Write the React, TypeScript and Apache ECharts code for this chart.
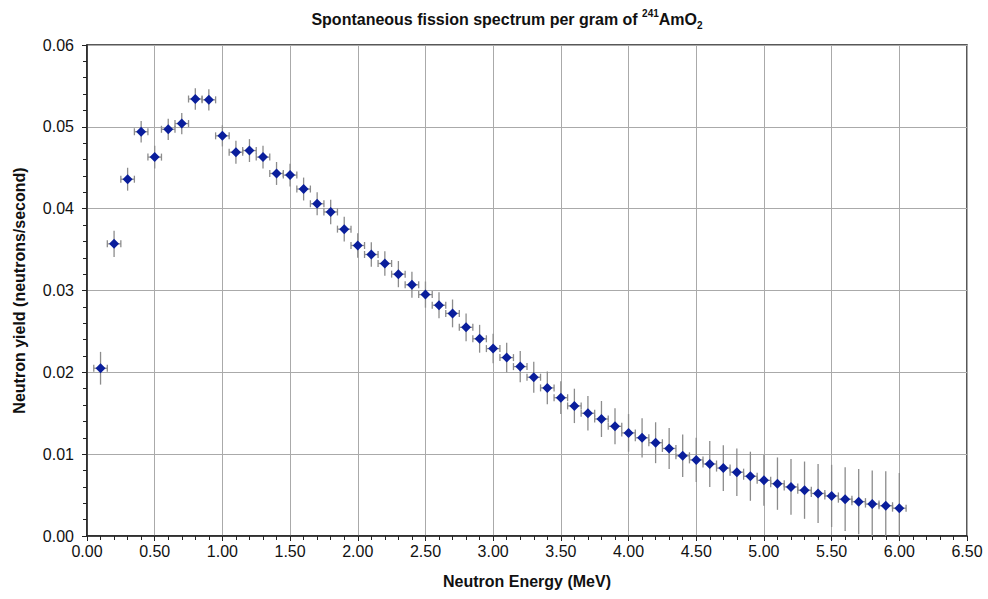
import React, { useEffect, useRef } from "react";
import * as echarts from "echarts";

const TITLE = "Spontaneous fission spectrum per gram of {sup|241}AmO{sub|2}";
const X_NAME = "Neutron Energy (MeV)";
const Y_NAME = "Neutron yield (neutrons/second)";

const energies = [
  0.1, 0.2, 0.3, 0.4, 0.5, 0.6, 0.7, 0.8, 0.9, 1.0,
  1.1, 1.2, 1.3, 1.4, 1.5, 1.6, 1.7, 1.8, 1.9, 2.0,
  2.1, 2.2, 2.3, 2.4, 2.5, 2.6, 2.7, 2.8, 2.9, 3.0,
  3.1, 3.2, 3.3, 3.4, 3.5, 3.6, 3.7, 3.8, 3.9, 4.0,
  4.1, 4.2, 4.3, 4.4, 4.5, 4.6, 4.7, 4.8, 4.9, 5.0,
  5.1, 5.2, 5.3, 5.4, 5.5, 5.6, 5.7, 5.8, 5.9, 6.0,
];

const yields = [
  0.0205, 0.0357, 0.0436, 0.0494, 0.0463, 0.0497, 0.0504, 0.0534, 0.0533, 0.0489,
  0.0469, 0.0471, 0.0463, 0.0443, 0.0441, 0.0424, 0.0406, 0.0396, 0.0375, 0.0355,
  0.0344, 0.0333, 0.0320, 0.0307, 0.0295, 0.0282, 0.0272, 0.0255, 0.0241, 0.0229,
  0.0218, 0.0207, 0.0194, 0.0181, 0.0169, 0.0159, 0.0150, 0.0143, 0.0134, 0.0126,
  0.0120, 0.0114, 0.0107, 0.0098, 0.0093, 0.0088, 0.0083, 0.0078, 0.0073, 0.0068,
  0.0064, 0.0060, 0.0056, 0.0052, 0.0049, 0.0045, 0.0042, 0.0039, 0.0037, 0.0034,
];

const yieldErrors = [
  0.0020, 0.0016, 0.0014, 0.0013, 0.0014, 0.0013, 0.0013, 0.0013, 0.0013, 0.0013,
  0.0014, 0.0014, 0.0014, 0.0014, 0.0014, 0.0014, 0.0014, 0.0015, 0.0015, 0.0015,
  0.0015, 0.0015, 0.0016, 0.0016, 0.0016, 0.0016, 0.0017, 0.0017, 0.0017, 0.0018,
  0.0018, 0.0019, 0.0019, 0.0020, 0.0020, 0.0021, 0.0021, 0.0022, 0.0022, 0.0023,
  0.0024, 0.0025, 0.0025, 0.0026, 0.0027, 0.0028, 0.0028, 0.0029, 0.0030, 0.0031,
  0.0032, 0.0034, 0.0035, 0.0036, 0.0038, 0.0039, 0.0040, 0.0041, 0.0042, 0.0043,
];

const energyHalfWidth = 0.05;

const FONT = "Liberation Sans, Arial, sans-serif";

export default function App() {
  const ref = useRef<HTMLDivElement>(null);

  useEffect(() => {
    if (!ref.current) return;
    const chart = echarts.init(ref.current, undefined, { renderer: "svg" });

    const points = energies.map((e, i) => [e, yields[i], yieldErrors[i]]);

    const option: any = {
      animation: false,
      backgroundColor: "#ffffff",
      title: {
        text: TITLE,
        left: 502,
        top: 3,
        textAlign: "center",
        textStyle: {
          fontFamily: FONT,
          fontSize: 16,
          fontWeight: "bold",
          color: "#111",
          lineHeight: 22,
          rich: {
            sup: { fontFamily: FONT, fontSize: 10, fontWeight: "bold", color: "#111", verticalAlign: "top" },
            sub: { fontFamily: FONT, fontSize: 10, fontWeight: "bold", color: "#111", verticalAlign: "bottom" },
          },
        },
      },
      grid: {
        left: 87,
        right: 21,
        top: 45,
        bottom: 63,
        show: true,
        borderColor: "#222",
        borderWidth: 1.5,
        backgroundColor: "transparent",
      },
      xAxis: {
        type: "value",
        min: 0,
        max: 6.5,
        interval: 0.5,
        name: X_NAME,
        nameLocation: "middle",
        nameGap: 37,
        nameTextStyle: { fontFamily: FONT, fontSize: 16, fontWeight: "bold", color: "#111" },
        axisLine: { show: true, lineStyle: { color: "#222", width: 1.5 } },
        axisTick: { show: true, inside: false, length: 5, lineStyle: { color: "#222" } },
        minorTick: { show: true, splitNumber: 5, length: 4, lineStyle: { color: "#222" } },
        axisLabel: {
          fontFamily: FONT,
          fontSize: 16,
          color: "#111",
          margin: 7,
          formatter: (v: number) => v.toFixed(2),
        },
        splitLine: { show: true, lineStyle: { color: "#aaaaaa", width: 1 } },
      },
      yAxis: {
        type: "value",
        min: 0,
        max: 0.06,
        interval: 0.01,
        name: Y_NAME,
        nameLocation: "middle",
        nameGap: 60,
        nameTextStyle: { fontFamily: FONT, fontSize: 16, fontWeight: "bold", color: "#111" },
        axisLine: { show: true, lineStyle: { color: "#222", width: 1.5 } },
        axisTick: { show: true, inside: false, length: 5, lineStyle: { color: "#222" } },
        minorTick: { show: true, splitNumber: 5, length: 4, lineStyle: { color: "#222" } },
        axisLabel: {
          fontFamily: FONT,
          fontSize: 16,
          color: "#111",
          margin: 13,
          formatter: (v: number) => v.toFixed(2),
        },
        splitLine: { show: true, lineStyle: { color: "#aaaaaa", width: 1 } },
      },
      series: [
        {
          type: "custom",
          clip: true,
          data: points,
          z: 2,
          renderItem: (params: any, api: any) => {
            const x = api.value(0);
            const y = api.value(1);
            const err = api.value(2);
            const c = api.coord([x, y]);
            const top = api.coord([x, y + err]);
            const bot = api.coord([x, y - err]);
            const l = api.coord([x - energyHalfWidth, y]);
            const r = api.coord([x + energyHalfWidth, y]);
            const style = { stroke: "#8c8c8c", lineWidth: 1.3, fill: null };
            return {
              type: "group",
              children: [
                { type: "line", shape: { x1: c[0], y1: top[1], x2: c[0], y2: bot[1] }, style },
                { type: "line", shape: { x1: l[0], y1: c[1], x2: r[0], y2: c[1] }, style },
                { type: "line", shape: { x1: l[0], y1: c[1] - 3.5, x2: l[0], y2: c[1] + 3.5 }, style },
                { type: "line", shape: { x1: r[0], y1: c[1] - 3.5, x2: r[0], y2: c[1] + 3.5 }, style },
              ],
            };
          },
        },
        {
          type: "scatter",
          data: points.map((p) => [p[0], p[1]]),
          symbol: "diamond",
          symbolSize: [10, 10],
          z: 3,
          itemStyle: { color: "#0a1e9c", opacity: 1 },
        },
      ],
    };

    chart.setOption(option);
    return () => chart.dispose();
  }, []);

  return (
    <div
      ref={ref}
      style={{ position: "absolute", left: 0, top: 0, width: 988, height: 599 }}
    />
  );
}
